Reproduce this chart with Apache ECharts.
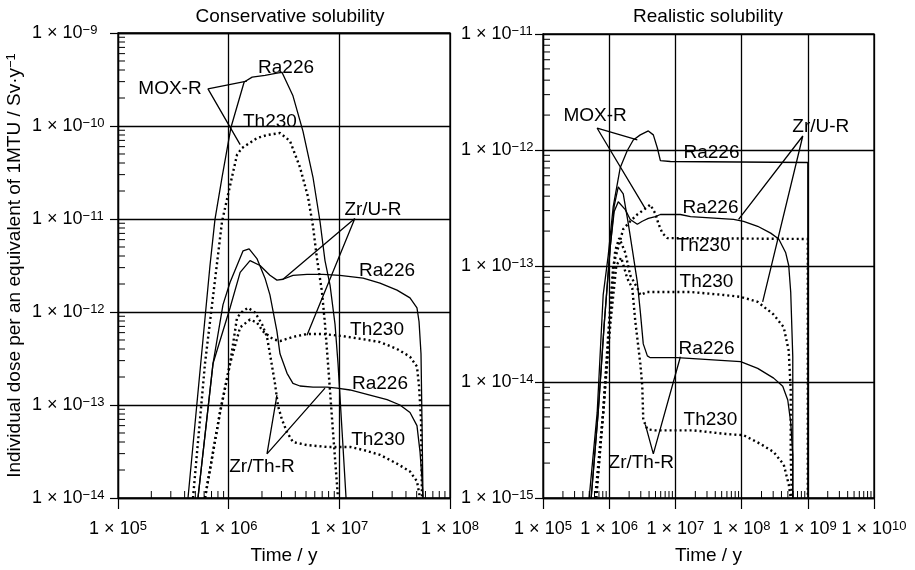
<!DOCTYPE html>
<html>
<head>
<meta charset="utf-8">
<script src="https://cdn.jsdelivr.net/npm/echarts@6/dist/echarts.min.js"></script>
<style>
html, body { margin: 0; padding: 0; background: #fff; }
#chart { width: 915px; height: 570px; }
</style>
</head>
<body>
<div id="chart"></div>
<script>
// ---- Conservative solubility (left panel) : [time / y, dose] ----
var consMoxRa = [[4.29e5,1e-14],[6.78e5,3.16e-12],[7.52e5,9.9e-12],[8.71e5,2.81e-11],[1.05e6,9.7e-11],[1.38e6,2.97e-10],[1.63e6,3.35e-10],[2.13e6,3.51e-10],[2.73e6,3.70e-10],[3.03e6,3.78e-10],[3.81e6,2.11e-10],[4.69e6,8.8e-11],[5.78e6,2.81e-11],[6.69e6,9.4e-12],[7.42e6,3.57e-12],[8.24e6,1.95e-12],[9.14e6,7.4e-13],[9.73e6,2.79e-13],[1.06e7,5.1e-14],[1.15e7,1e-14]];
var consMoxTh = [[4.76e5,1e-14],[6.11e5,2.79e-13],[8.71e5,9.4e-12],[1.07e6,2.81e-11],[1.19e6,4.9e-11],[1.32e6,5.8e-11],[1.80e6,7.4e-11],[2.22e6,8.0e-11],[2.91e6,8.4e-11],[3.58e6,6.9e-11],[4.41e6,3.6e-11],[5.21e6,1.73e-11],[5.78e6,8.36e-12],[6.28e6,3.75e-12],[6.97e6,1.64e-12],[7.42e6,7.4e-13],[7.90e6,2.79e-13],[8.77e6,5.1e-14],[9.73e6,1e-14]];
var consZrURa = [[5.28e5,1e-14],[7.22e5,2.79e-13],[1.03e6,1.11e-12],[1.27e6,2.67e-12],[1.56e6,3.57e-12],[1.92e6,3.16e-12],[2.36e6,2.48e-12],[2.73e6,2.20e-12],[3.10e6,2.25e-12],[3.81e6,2.48e-12],[5.10e6,2.54e-12],[7.12e6,2.54e-12],[1.01e7,2.48e-12],[1.64e7,2.31e-12],[2.33e7,2.04e-12],[3.32e7,1.72e-12],[4.35e7,1.42e-12],[5.03e7,1.11e-12],[5.25e7,7.9e-13],[5.47e7,3.55e-13],[5.58e7,6.98e-14],[5.70e7,1e-14]];
var consZrThRa = [[5.28e5,1e-14],[7.22e5,2.79e-13],[8.89e5,1.20e-12],[1.03e6,2.09e-12],[1.35e6,4.55e-12],[1.53e6,4.78e-12],[1.80e6,3.75e-12],[2.13e6,2.31e-12],[2.36e6,1.53e-12],[2.73e6,6.2e-13],[2.91e6,3.55e-13],[3.37e6,2.19e-13],[3.81e6,1.71e-13],[4.41e6,1.60e-13],[5.78e6,1.56e-13],[7.74e6,1.56e-13],[9.53e6,1.52e-13],[1.25e7,1.45e-13],[1.89e7,1.28e-13],[2.70e7,1.14e-13],[3.53e7,1.00e-13],[4.35e7,8.3e-14],[5.03e7,6.0e-14],[5.36e7,3.13e-14],[5.58e7,1.63e-14],[5.70e7,1e-14]];
var consZrUTh = [[6.11e5,1e-14],[8.35e5,8.3e-14],[1.03e6,2.79e-13],[1.27e6,6.84e-13],[1.56e6,8.3e-13],[1.80e6,7.7e-13],[2.04e6,6.2e-13],[2.52e6,5.1e-13],[2.91e6,4.87e-13],[3.81e6,5.4e-13],[5.10e6,5.8e-13],[7.12e6,5.8e-13],[1.08e7,5.5e-13],[1.64e7,5.1e-13],[2.33e7,4.75e-13],[3.32e7,4.01e-13],[4.35e7,3.30e-13],[5.03e7,2.59e-13],[5.25e7,1.60e-13],[5.47e7,6.98e-14],[5.58e7,1e-14]];
var consZrThTh = [[6.11e5,1e-14],[8.35e5,8.3e-14],[1.03e6,2.79e-13],[1.19e6,8.7e-13],[1.35e6,1.03e-12],[1.50e6,1.11e-12],[1.73e6,9.86e-13],[2.00e6,7.4e-13],[2.22e6,5.4e-13],[2.36e6,3.55e-13],[2.62e6,1.71e-13],[2.79e6,9.8e-14],[3.03e6,6.98e-14],[3.37e6,5.1e-14],[3.81e6,3.99e-14],[5.10e6,3.71e-14],[7.74e6,3.54e-14],[1.25e7,3.54e-14],[1.64e7,3.29e-14],[2.33e7,2.91e-14],[3.32e7,2.34e-14],[4.35e7,1.93e-14],[5.03e7,1.51e-14],[5.36e7,1e-14]];
// leader lines: curve point -> label point -> curve point
var consMoxLead = [[1.46e6,3.04e-10],[6.5e5,2.51e-10],[1.27e6,6.3e-11]];
var consZrULead = [[3.10e6,2.25e-12],[1.38e7,1.01e-11],[5.10e6,5.64e-13]];
var consZrThLead = [[2.73e6,1.28e-13],[2.22e6,2.98e-14],[7.42e6,1.52e-13]];
var consLabels = [[2.95e5,2.51e-10,'MOX-R'],[3.30e6,4.28e-10,'Ra226'],[2.36e6,1.10e-10,'Th230'],[2.01e7,1.26e-11,'Zr/U-R'],[2.70e7,2.80e-12,'Ra226'],[2.19e7,6.5e-13,'Th230'],[2.33e7,1.71e-13,'Ra226'],[2.24e7,4.19e-14,'Th230'],[2.0e6,2.18e-14,'Zr/Th-R']];

// ---- Realistic solubility (right panel) ----
var realMoxRa = [[4.98e5,1e-15],[6.58e5,5.44e-15],[8.11e5,5.63e-14],[9.66e5,1.23e-13],[1.15e6,3.25e-13],[1.47e6,7.08e-13],[1.87e6,9.86e-13],[2.31e6,1.22e-12],[2.95e6,1.35e-12],[3.90e6,1.46e-12],[4.64e6,1.35e-12],[5.34e6,1.04e-12],[5.93e6,8.11e-13],[8.40e6,7.96e-13],[1e9,7.80e-13],[1e9,1e-15]];
var realMoxTh = [[6.13e5,1e-15],[8.11e5,5.44e-15],[9.66e5,2.58e-14],[1.15e6,1.01e-13],[1.63e6,2.08e-13],[2.08e6,2.43e-13],[2.66e6,2.78e-13],[3.51e6,3.12e-13],[4.18e6,3.38e-13],[4.98e6,2.83e-13],[5.52e6,2.33e-13],[6.35e6,1.92e-13],[7.57e6,1.74e-13],[1e9,1.71e-13],[1e9,1e-15]];
var realZrURa = [[5.34e5,1e-15],[6.81e5,5.44e-15],[8.40e5,3.14e-14],[1.04e6,1.49e-13],[1.19e6,2.95e-13],[1.37e6,3.58e-13],[1.75e6,3.06e-13],[2.08e6,2.52e-13],[2.66e6,2.29e-13],[3.16e6,2.43e-13],[3.90e6,2.57e-13],[4.98e6,2.67e-13],[5.93e6,2.78e-13],[1.19e7,2.78e-13],[1.69e7,2.67e-13],[7.57e7,2.52e-13],[1.07e8,2.43e-13],[1.75e8,2.20e-13],[2.75e8,1.92e-13],[3.64e8,1.71e-13],[4.64e8,1.30e-13],[5.15e8,1.01e-13],[5.52e8,5.97e-14],[5.93e8,1.65e-14],[5.93e8,1e-15]];
var realZrThRa = [[5.34e5,1e-15],[6.81e5,5.44e-15],[8.40e5,3.14e-14],[1.04e6,1.49e-13],[1.19e6,3.3e-13],[1.37e6,4.80e-13],[1.63e6,4.18e-13],[1.94e6,2.33e-13],[2.31e6,1.23e-13],[2.66e6,7.25e-14],[2.95e6,4.04e-14],[3.27e6,2.13e-14],[3.77e6,1.68e-14],[4.18e6,1.62e-14],[1.07e7,1.62e-14],[9.66e7,1.50e-14],[1.75e8,1.31e-14],[3.05e8,1.08e-14],[4.18e8,9.2e-15],[4.98e8,7.0e-15],[5.52e8,4.48e-15],[5.93e8,2.36e-15],[5.93e8,1e-15]];
var realZrUTh = [[6.35e5,1e-15],[8.11e5,5.44e-15],[1.04e6,3.81e-14],[1.23e6,1.35e-13],[1.42e6,1.74e-13],[1.75e6,1.30e-13],[2.08e6,8.31e-14],[2.66e6,6.45e-14],[2.95e6,5.63e-14],[3.77e6,5.97e-14],[5.93e6,5.97e-14],[1.69e7,5.97e-14],[5.34e7,5.63e-14],[9.66e7,5.42e-14],[1.75e8,4.91e-14],[3.05e8,3.81e-14],[4.33e8,2.96e-14],[5.15e8,1.86e-14],[5.52e8,8.5e-15],[5.52e8,2.36e-15],[5.72e8,1e-15]];
var realZrThTh = [[6.35e5,1e-15],[8.11e5,5.44e-15],[1.04e6,3.14e-14],[1.28e6,1.01e-13],[1.52e6,1.18e-13],[1.87e6,7.84e-14],[2.23e6,6.45e-14],[2.48e6,3.33e-14],[2.95e6,1.44e-14],[3.16e6,9.2e-15],[3.27e6,4.75e-15],[3.77e6,3.91e-15],[4.98e6,3.83e-15],[1.87e7,3.83e-15],[6.14e7,3.55e-15],[1.07e8,3.48e-15],[1.94e8,2.92e-15],[3.05e8,2.49e-15],[4.33e8,1.94e-15],[5.15e8,1.31e-15],[5.52e8,1e-15]];
var realMoxLead = [[2.66e6,1.22e-12],[6.58e5,1.54e-12],[3.51e6,3.12e-13]];
var realZrULead = [[9.0e7,2.52e-13],[8.40e8,1.32e-12],[2.08e8,4.91e-14]];
var realZrThLead = [[3.51e6,4.31e-15],[4.64e6,2.40e-15],[1.19e7,1.65e-14]];
var realLabels = [[6.13e5,1.99e-12,'MOX-R'],[1.57e9,1.60e-12,'Zr/U-R'],[3.51e7,9.48e-13,'Ra226'],[3.39e7,3.18e-13,'Ra226'],[2.66e7,1.49e-13,'Th230'],[2.95e7,7.25e-14,'Th230'],[2.95e7,1.93e-14,'Ra226'],[3.39e7,4.75e-15,'Th230'],[3.05e6,2.01e-15,'Zr/Th-R']];

// axis ranges
var xRanges = [[1e5, 1e8], [1e5, 1e10]];
var yRanges = [[1e-14, 1e-9], [1e-15, 1e-11]];
var minorSteps = [2, 3, 4, 5, 6, 7, 8, 9];

var FONT = 'Liberation Sans, Arial, sans-serif';

function decadeLabel(v) {
    var e = Math.round(Math.log(v) / Math.LN10);
    return '1 × 10{sup|' + (e < 0 ? '\u2212' + (-e) : e) + '}';
}

function minorValues(range) {
    var out = [];
    var e0 = Math.round(Math.log(range[0]) / Math.LN10);
    var e1 = Math.round(Math.log(range[1]) / Math.LN10);
    for (var e = e0; e < e1; e++) {
        minorSteps.forEach(function (m) { out.push(m * Math.pow(10, e)); });
    }
    return out;
}

function curve(data, idx, dotted) {
    return {
        type: 'line', xAxisIndex: idx, yAxisIndex: idx, data: data,
        symbol: 'none', silent: true, z: 3,
        lineStyle: dotted
            ? { color: '#000', width: 2.4, type: [2, 3], cap: 'butt' }
            : { color: '#000', width: 1.3 }
    };
}

function labels(data, idx) {
    return {
        type: 'scatter', xAxisIndex: idx, yAxisIndex: idx, data: data,
        symbolSize: 1, itemStyle: { color: 'rgba(0,0,0,0)', opacity: 1 }, silent: true, z: 5,
        label: {
            show: true, position: 'inside', color: '#000', fontSize: 19, fontFamily: FONT,
            textBorderWidth: 0,
            formatter: function (p) { return p.value[2]; }
        }
    };
}

function xMinor(idx) {
    return {
        type: 'custom', xAxisIndex: idx, yAxisIndex: idx, silent: true, clip: false,
        data: minorValues(xRanges[idx]).map(function (v) { return [v, yRanges[idx][0]]; }),
        renderItem: function (params, api) {
            var p = api.coord([api.value(0), api.value(1)]);
            return { type: 'line', shape: { x1: p[0], y1: p[1], x2: p[0], y2: p[1] - 7 },
                     style: { stroke: '#000', lineWidth: 1 } };
        }
    };
}

function yMinor(idx) {
    return {
        type: 'custom', xAxisIndex: idx, yAxisIndex: idx, silent: true, clip: false,
        data: minorValues(yRanges[idx]).map(function (v) { return [xRanges[idx][0], v]; }),
        renderItem: function (params, api) {
            var p = api.coord([api.value(0), api.value(1)]);
            return { type: 'line', shape: { x1: p[0], y1: p[1], x2: p[0] + 7, y2: p[1] },
                     style: { stroke: '#000', lineWidth: 1 } };
        }
    };
}

function xAxis(idx) {
    return {
        type: 'log', logBase: 10, gridIndex: idx,
        min: xRanges[idx][0], max: xRanges[idx][1],
        name: 'Time / y', nameLocation: 'middle', nameGap: 48,
        nameTextStyle: { color: '#000', fontSize: 19, fontFamily: FONT },
        axisLine: { show: true, lineStyle: { color: '#000', width: 1.3 } },
        axisTick: { show: true, inside: false, length: 11, lineStyle: { color: '#000', width: 1.2 } },
        splitLine: { show: true, lineStyle: { color: '#000', width: 1.3 } },
        axisLabel: {
            color: '#000', fontSize: 18, fontFamily: FONT, margin: 22,
            formatter: decadeLabel,
            rich: { sup: { fontSize: 13, fontFamily: FONT, verticalAlign: 'top' } }
        }
    };
}

function yAxis(idx, margin) {
    return {
        type: 'log', logBase: 10, gridIndex: idx,
        min: yRanges[idx][0], max: yRanges[idx][1],
        axisLine: { show: true, lineStyle: { color: '#000', width: 1.3 } },
        axisTick: { show: true, inside: false, length: 8, lineStyle: { color: '#000', width: 1.2 } },
        splitLine: { show: true, lineStyle: { color: '#000', width: 1.3 } },
        axisLabel: {
            color: '#000', fontSize: 18, fontFamily: FONT, margin: margin, align: 'left',
            formatter: decadeLabel,
            rich: { sup: { fontSize: 13, fontFamily: FONT, verticalAlign: 'top' } }
        }
    };
}

var yLeft = yAxis(0, 86);
yLeft.name = 'Individual dose per an equivalent of 1MTU / Sv·y{sup|\u22121}';
yLeft.nameLocation = 'middle';
yLeft.nameGap = 94;
yLeft.nameTextStyle = { color: '#000', fontSize: 19, fontFamily: FONT,
    rich: { sup: { fontSize: 13, fontFamily: FONT, verticalAlign: 'top' } } };

var chart = echarts.init(document.getElementById('chart'));
chart.setOption({
    animation: false,
    backgroundColor: '#fff',
    textStyle: { fontFamily: FONT },
    title: [
        { text: 'Conservative solubility', left: 290, top: 7, textAlign: 'center', padding: 0,
          textStyle: { color: '#000', fontSize: 19, fontWeight: 'normal', fontFamily: FONT } },
        { text: 'Realistic solubility', left: 708, top: 7, textAlign: 'center', padding: 0,
          textStyle: { color: '#000', fontSize: 19, fontWeight: 'normal', fontFamily: FONT } }
    ],
    grid: [
        { left: 118, top: 33, width: 332, height: 474, show: true, borderColor: '#000', borderWidth: 1.3 },
        { left: 543, top: 34, width: 331, height: 473, show: true, borderColor: '#000', borderWidth: 1.3 }
    ],
    xAxis: [xAxis(0), xAxis(1)],
    yAxis: [yLeft, yAxis(1, 82)],
    series: [
        curve(consMoxRa, 0, false), curve(consMoxTh, 0, true),
        curve(consZrURa, 0, false), curve(consZrUTh, 0, true),
        curve(consZrThRa, 0, false), curve(consZrThTh, 0, true),
        curve(consMoxLead, 0, false), curve(consZrULead, 0, false), curve(consZrThLead, 0, false),
        labels(consLabels, 0), xMinor(0), yMinor(0),
        curve(realMoxRa, 1, false), curve(realMoxTh, 1, true),
        curve(realZrURa, 1, false), curve(realZrUTh, 1, true),
        curve(realZrThRa, 1, false), curve(realZrThTh, 1, true),
        curve(realMoxLead, 1, false), curve(realZrULead, 1, false), curve(realZrThLead, 1, false),
        labels(realLabels, 1), xMinor(1), yMinor(1)
    ]
});
</script>
</body>
</html>
